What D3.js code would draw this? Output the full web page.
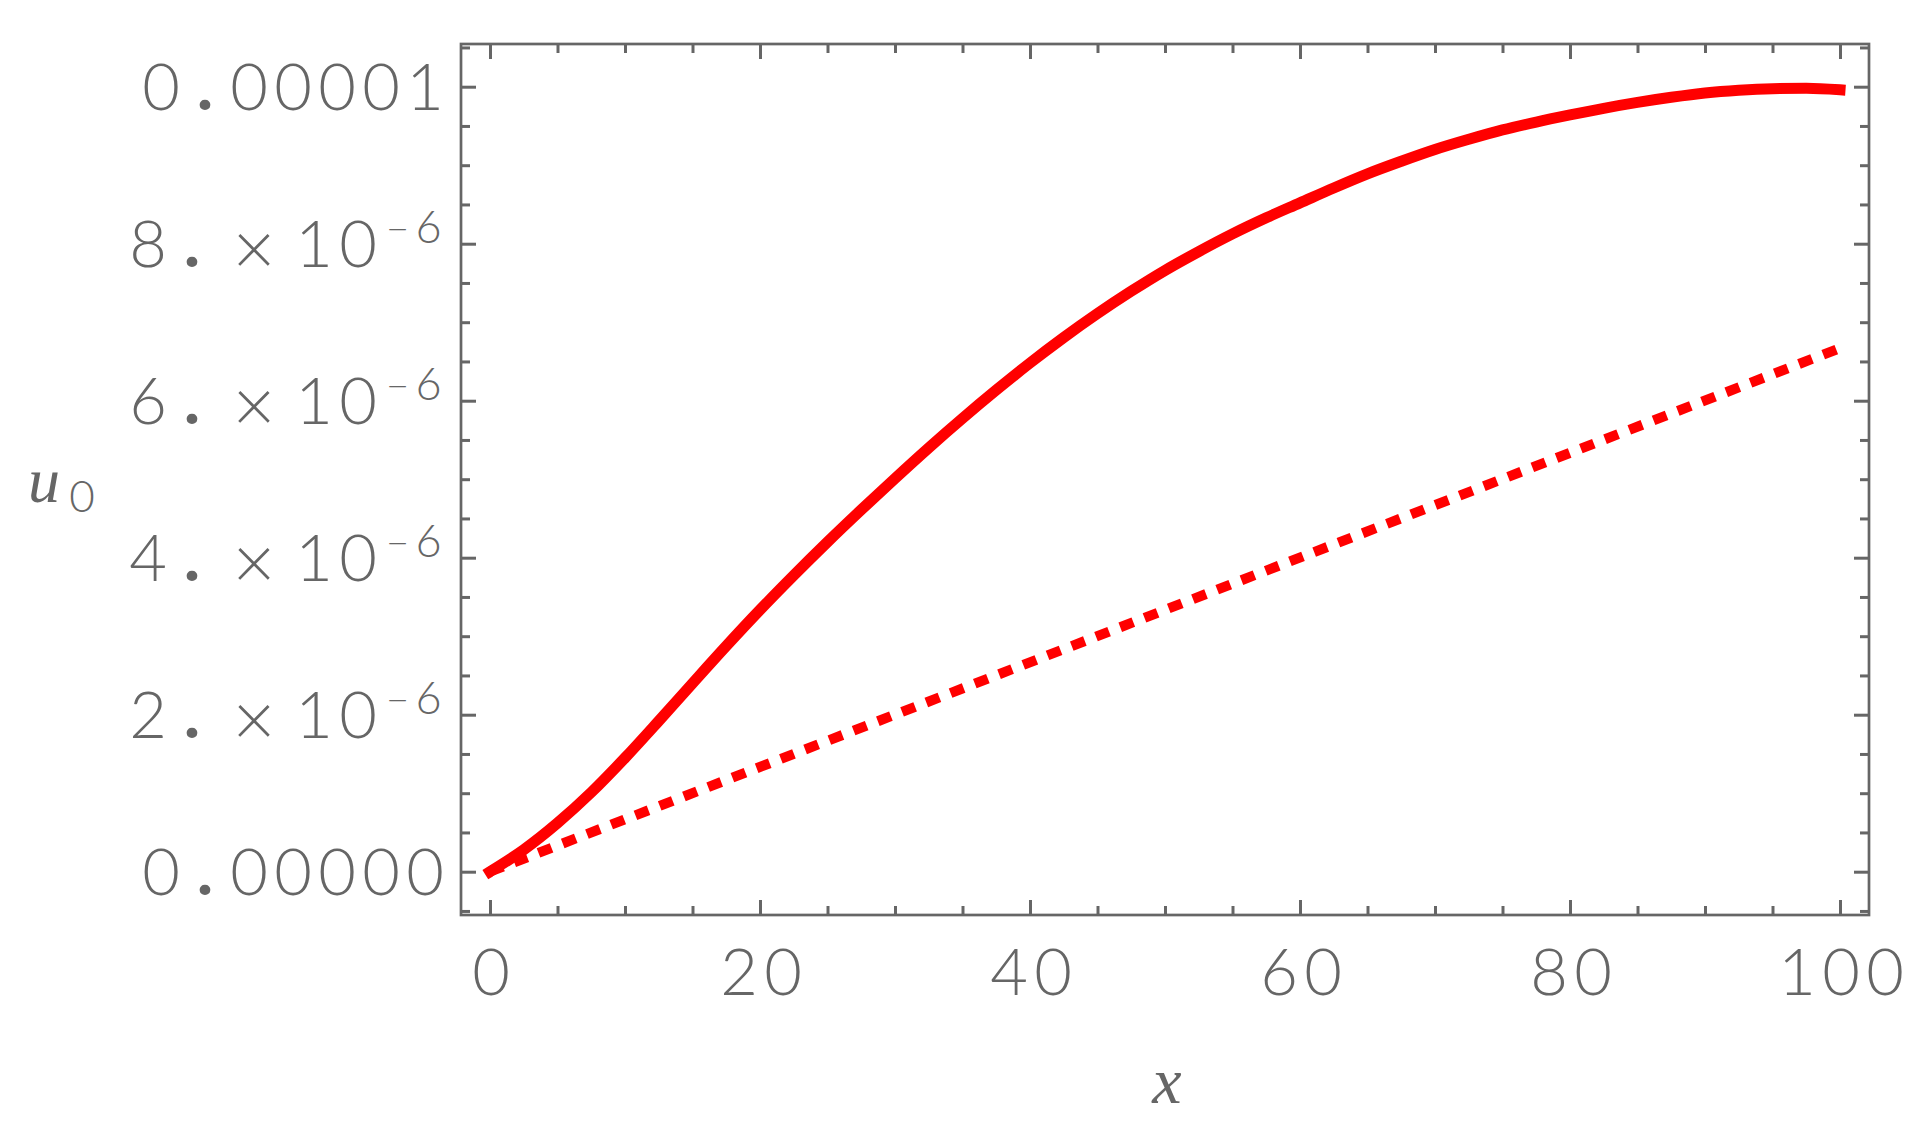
<!DOCTYPE html>
<html>
<head>
<meta charset="utf-8">
<script src="https://cdn.jsdelivr.net/npm/d3@7"></script>
<style>
  body { margin: 0; background: #fff; }
</style>
</head>
<body>
<div id="chart"></div>
<script>
// u0 against x: full solution (solid) and linear approximation (dashed)

// solid curve
var xValues = [0, 2.5, 5, 7.5, 10, 12.5, 15, 17.5, 20, 22.5, 25, 27.5, 30, 32.5, 35, 37.5,
               40, 42.5, 45, 47.5, 50, 52.5, 55, 57.5, 60, 62.5, 65, 67.5, 70, 72.5, 75,
               77.5, 80, 82.5, 85, 87.5, 90, 92.5, 95, 97.5, 100];
var u0Values = [0, 0.28e-6, 0.62e-6, 1.01e-6, 1.45e-6, 1.92e-6, 2.40e-6, 2.875e-6, 3.335e-6,
                3.775e-6, 4.20e-6, 4.61e-6, 5.01e-6, 5.40e-6, 5.775e-6, 6.135e-6,
                6.48e-6, 6.805e-6, 7.11e-6, 7.395e-6, 7.66e-6, 7.90e-6, 8.125e-6, 8.33e-6,
                8.52e-6, 8.71e-6, 8.89e-6, 9.05e-6, 9.20e-6, 9.33e-6, 9.45e-6,
                9.55e-6, 9.64e-6, 9.725e-6, 9.80e-6, 9.865e-6, 9.92e-6, 9.955e-6, 9.975e-6, 9.98e-6, 9.96e-6];

// dashed straight line
var linearX = [0, 100];
var linearU0 = [0, 6.67e-6];

// ticks
var xMajorTicks = [0, 20, 40, 60, 80, 100];
var xTickLabels = ["0", "20", "40", "60", "80", "100"];
var yMajorTicks = [0, 2e-6, 4e-6, 6e-6, 8e-6, 1e-5];
var yTickMantissa = ["0.00000", "2.", "4.", "6.", "8.", "0.00001"];
var yTickExponent = [null, "6", "6", "6", "6", null];

var svgWidth = 1929;
var svgHeight = 1135;

var frame = { left: 461, right: 1869, top: 44, bottom: 915 };

var grey = "#666666";
var labelFont = "Lato, 'DejaVu Sans', sans-serif";
var serifFont = "'Liberation Serif', 'DejaVu Serif', serif";
var cell = 44;   // fixed advance, the labels are set like a monospace face

var svg = d3.select("#chart")
  .append("svg")
  .attr("width", svgWidth)
  .attr("height", svgHeight);

var xScale = d3.scaleLinear()
  .domain([-2.148, 102.148])
  .range([frame.left, frame.right]);

var yScale = d3.scaleLinear()
  .domain([-0.5516e-6, 10.544e-6])
  .range([frame.bottom, frame.top]);

var xMinorTicks = d3.range(0, 100.1, 5).filter(d => xMajorTicks.indexOf(d) < 0);
var yMinorTicks = d3.range(-5, 106, 5).map(d => d * 1e-7)
  .filter(d => d >= yScale.domain()[0] && d <= yScale.domain()[1])
  .filter(d => !yMajorTicks.some(t => Math.abs(t - d) < 1e-9));

// tick marks pointing inward on all four sides
function drawTicks(axis, transform) {
  var g = svg.append("g")
    .attr("transform", transform)
    .call(axis);
  g.select(".domain").remove();
  g.selectAll("line")
    .attr("stroke", grey)
    .attr("stroke-width", 3);
  g.selectAll("text").remove();
}

[[xMajorTicks, 15], [xMinorTicks, 9]].forEach(function(t) {
  drawTicks(d3.axisBottom(xScale).tickValues(t[0]).tickSize(-t[1]).tickSizeOuter(0),
            `translate(0, ${frame.bottom})`);
  drawTicks(d3.axisTop(xScale).tickValues(t[0]).tickSize(-t[1]).tickSizeOuter(0),
            `translate(0, ${frame.top})`);
});
[[yMajorTicks, 15], [yMinorTicks, 9]].forEach(function(t) {
  drawTicks(d3.axisLeft(yScale).tickValues(t[0]).tickSize(-t[1]).tickSizeOuter(0),
            `translate(${frame.left}, 0)`);
  drawTicks(d3.axisRight(yScale).tickValues(t[0]).tickSize(-t[1]).tickSizeOuter(0),
            `translate(${frame.right}, 0)`);
});

// frame
svg.append("rect")
  .attr("x", frame.left)
  .attr("y", frame.top)
  .attr("width", frame.right - frame.left)
  .attr("height", frame.bottom - frame.top)
  .attr("fill", "none")
  .attr("stroke", grey)
  .attr("stroke-width", 2.7);

// one glyph per cell, centred; the full stop is set heavier like the original
function glyph(g, ch, cx, y, size) {
  return g.append("text")
    .attr("x", cx)
    .attr("y", y)
    .attr("text-anchor", "middle")
    .attr("font-family", labelFont)
    .attr("font-weight", ch === "." ? 900 : 300)
    .attr("font-size", size + "px")
    .attr("fill", grey)
    .text(ch);
}

// x tick labels
var xLabelGroup = svg.append("g");
xMajorTicks.forEach(function(v, i) {
  var s = xTickLabels[i];
  s.split("").forEach(function(ch, j) {
    glyph(xLabelGroup, ch, xScale(v) + 1 + (j - (s.length - 1) / 2) * cell, 995, 65);
  });
});

// y tick labels, right edge of the last glyph near x = 439
var yLabelGroup = svg.append("g");
var lastCentre = 425;
yMajorTicks.forEach(function(v, i) {
  var base = yScale(v) + 23.5;
  var m = yTickMantissa[i];
  if (yTickExponent[i] === null) {
    m.split("").forEach(function(ch, j) {
      glyph(yLabelGroup, ch, lastCentre - (m.length - 1 - j) * cell, base, 65);
    });
    return;
  }
  glyph(yLabelGroup, m[0], lastCentre - 277, base, 65);
  glyph(yLabelGroup, m[1], lastCentre - 233, base, 65);
  glyph(yLabelGroup, "\u00d7", lastCentre - 171, base + 8, 74);
  glyph(yLabelGroup, "1", lastCentre - 111, base, 65);
  glyph(yLabelGroup, "0", lastCentre - 67, base, 65);
  glyph(yLabelGroup, "\u2212", lastCentre - 27.5, base - 24, 40);
  glyph(yLabelGroup, yTickExponent[i], lastCentre + 3.5, base - 24, 45);
});

// curves
var line = d3.line()
  .x(d => xScale(d[0]))
  .y(d => yScale(d[1]))
  .curve(d3.curveMonotoneX);

svg.append("path")
  .datum(d3.zip(linearX, linearU0))
  .attr("d", line)
  .attr("fill", "none")
  .attr("stroke", "#ff0000")
  .attr("stroke-width", 10)
  .attr("stroke-dasharray", "14,12");

svg.append("path")
  .datum(d3.zip(xValues, u0Values))
  .attr("d", line)
  .attr("fill", "none")
  .attr("stroke", "#ff0000")
  .attr("stroke-width", 11)
  .attr("stroke-linecap", "square")
  .attr("stroke-linejoin", "round");

// axis titles
svg.append("text")
  .attr("x", 1167)
  .attr("y", 1103)
  .attr("text-anchor", "middle")
  .attr("font-family", serifFont)
  .attr("font-style", "italic")
  .attr("font-size", "66px")
  .attr("fill", grey)
  .text("x");

svg.append("text")
  .attr("x", 28)
  .attr("y", 502)
  .attr("font-family", serifFont)
  .attr("font-style", "italic")
  .attr("font-size", "64px")
  .attr("fill", grey)
  .text("u");
glyph(svg, "0", 82, 512, 44);
</script>
</body>
</html>
